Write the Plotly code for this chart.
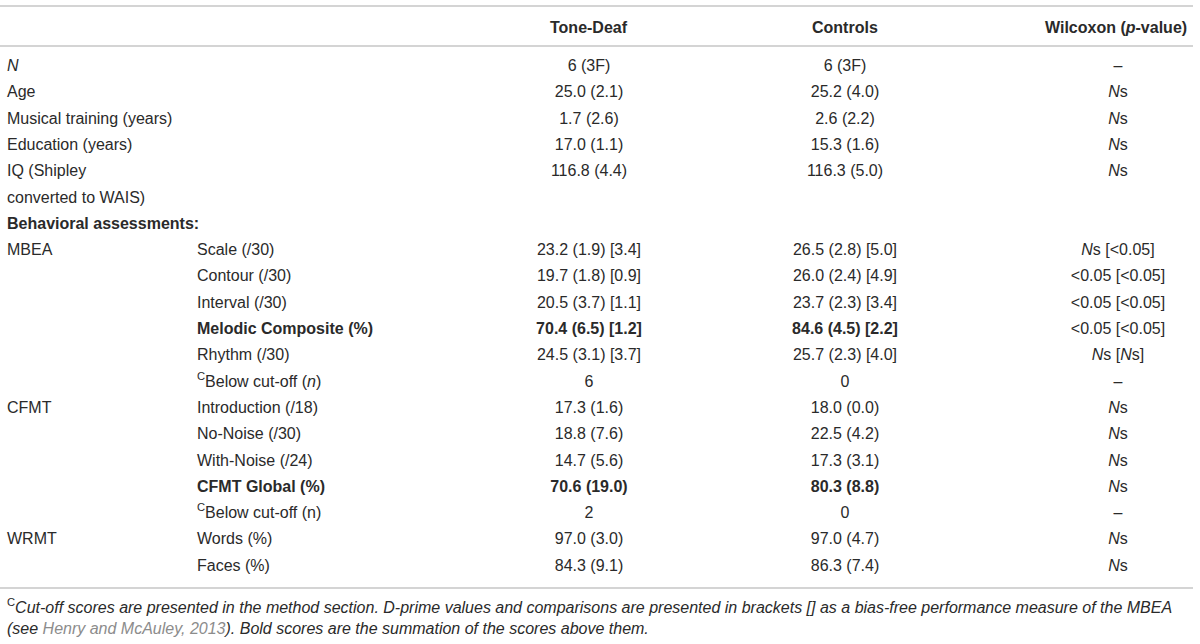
import plotly.graph_objects as go

# one entry per printed line of the table body
group = ["<i>N</i>", "Age", "Musical training (years)", "Education (years)",
         "IQ (Shipley", "converted to WAIS)", "<b>Behavioral assessments:</b>",
         "MBEA", "", "", "", "", "",
         "CFMT", "", "", "", "",
         "WRMT", ""]
measure = ["", "", "", "", "", "", "",
           "Scale (/30)", "Contour (/30)", "Interval (/30)",
           "<b>Melodic Composite (%)</b>", "Rhythm (/30)",
           "<sup>C</sup>Below cut-off (<i>n</i>)",
           "Introduction (/18)", "No-Noise (/30)", "With-Noise (/24)",
           "<b>CFMT Global (%)</b>", "<sup>C</sup>Below cut-off (n)",
           "Words (%)", "Faces (%)"]
tone_deaf = ["6 (3F)", "25.0 (2.1)", "1.7 (2.6)", "17.0 (1.1)", "116.8 (4.4)", "", "",
             "23.2 (1.9) [3.4]", "19.7 (1.8) [0.9]", "20.5 (3.7) [1.1]",
             "<b>70.4 (6.5) [1.2]</b>", "24.5 (3.1) [3.7]", "6",
             "17.3 (1.6)", "18.8 (7.6)", "14.7 (5.6)", "<b>70.6 (19.0)</b>", "2",
             "97.0 (3.0)", "84.3 (9.1)"]
controls = ["6 (3F)", "25.2 (4.0)", "2.6 (2.2)", "15.3 (1.6)", "116.3 (5.0)", "", "",
            "26.5 (2.8) [5.0]", "26.0 (2.4) [4.9]", "23.7 (2.3) [3.4]",
            "<b>84.6 (4.5) [2.2]</b>", "25.7 (2.3) [4.0]", "0",
            "18.0 (0.0)", "22.5 (4.2)", "17.3 (3.1)", "<b>80.3 (8.8)</b>", "0",
            "97.0 (4.7)", "86.3 (7.4)"]
NS = "<i>N</i>s"
wilcoxon = ["–", NS, NS, NS, NS, "", "",
            NS + " [&lt;0.05]", "&lt;0.05 [&lt;0.05]", "&lt;0.05 [&lt;0.05]",
            "&lt;0.05 [&lt;0.05]", NS + " [" + NS + "]", "–",
            NS, NS, NS, NS, "–",
            NS, NS]
headers = ["<b>Tone-Deaf</b>", "<b>Controls</b>", "<b>Wilcoxon (<i>p</i>-value)</b>"]

# column anchors (x) and alignment
col_x = [7, 197, 589, 845, 1118]
col_pos = ["middle right", "middle right", "middle center", "middle center", "middle center"]
columns = [group, measure, tone_deaf, controls, wilcoxon]
head_x = [589, 845, 1189]
head_anchor = ["center", "center", "right"]

TXT = "#2a2a2a"
FONT = "Liberation Sans"

fig = go.Figure()
for cx, pos, col in zip(col_x, col_pos, columns):
    keep = [i for i, t in enumerate(col) if t]
    fig.add_trace(go.Scatter(
        x=[cx] * len(keep), y=keep, text=[col[i] for i in keep], mode="text",
        textposition=pos, textfont=dict(family=FONT, size=16, color=TXT),
        hoverinfo="skip", showlegend=False, cliponaxis=False,
    ))

W, H = 1200, 644
top_px, pitch = 67, 26.3


def py(px):
    # pixel row -> paper fraction
    return 1 - px / H


annotations = []
for hx, anc, h in zip(head_x, head_anchor, headers):
    annotations.append(dict(x=hx, xref="x", y=py(28), yref="paper", text=h,
                            showarrow=False, xanchor=anc, yanchor="middle",
                            font=dict(family=FONT, size=16, color=TXT)))

foot1 = ("<sup>C</sup><i>Cut-off scores are presented in the method section. D-prime values and "
         "comparisons are presented in brackets [] as a bias-free performance measure of the MBEA</i>")
foot2 = ("<i>(see </i><span style='color:#8c8c8c'><i>Henry and McAuley, 2013</i></span>"
         "<i>). Bold scores are the summation of the scores above them.</i>")
for yy, t in [(606, foot1), (628, foot2)]:
    annotations.append(dict(x=5 / W, xref="paper", y=py(yy), yref="paper", text=t,
                            showarrow=False, xanchor="left", yanchor="middle",
                            font=dict(family=FONT, size=16, color=TXT)))

shapes = []
for yy in [6, 46, 588]:
    shapes.append(dict(type="line", xref="paper", yref="paper", x0=0, x1=1193 / W,
                       y0=py(yy), y1=py(yy), line=dict(color="#d4d4d4", width=2)))

fig.update_layout(
    width=W, height=H,
    margin=dict(l=0, r=0, t=0, b=0),
    paper_bgcolor="white", plot_bgcolor="white",
    xaxis=dict(range=[0, W], visible=False, fixedrange=True),
    yaxis=dict(range=[(H - top_px) / pitch, -top_px / pitch], visible=False, fixedrange=True),
    annotations=annotations, shapes=shapes,
)

fig.write_html("out.html", config={"displayModeBar": False},
               post_script="document.body.style.margin='0';")
